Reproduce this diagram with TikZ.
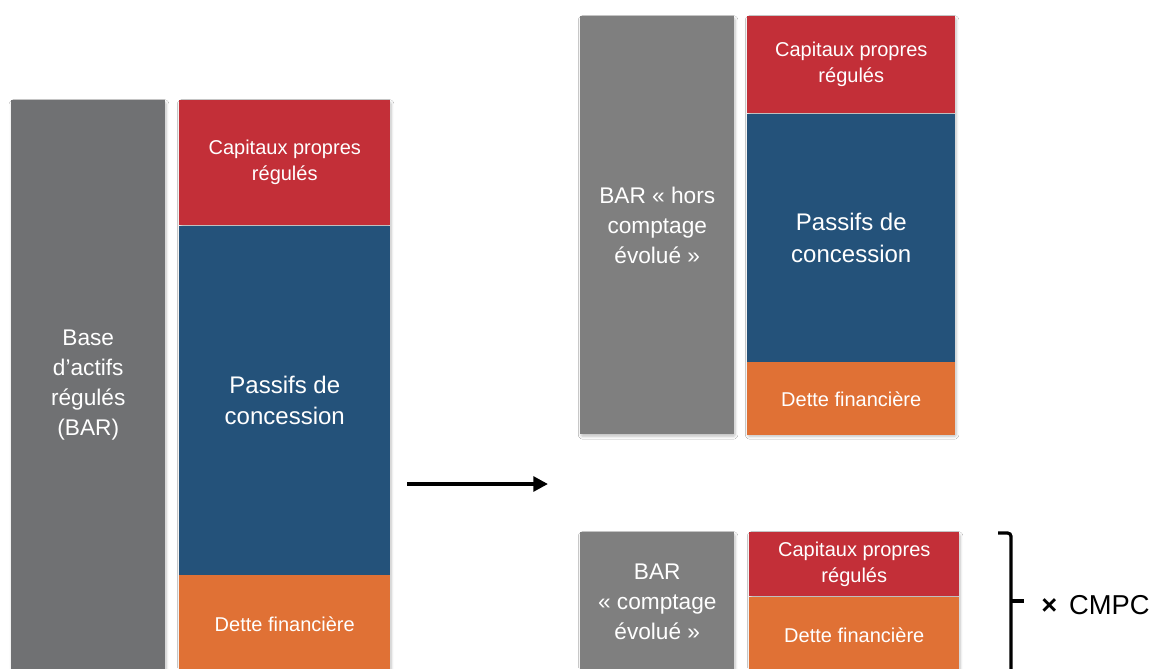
\documentclass[tikz,border=0pt]{standalone}
\usepackage{fontspec}
\setmainfont{Liberation Sans}
\usetikzlibrary{arrows.meta,shadows.blur}
\definecolor{barleft}{HTML}{707173}
\definecolor{bargray}{HTML}{7F7F7F}
\definecolor{capred}{HTML}{C32F38}
\definecolor{pasblue}{HTML}{24527A}
\definecolor{detorange}{HTML}{E07135}
\tikzset{
  block/.style={anchor=north west, inner sep=0pt, align=center, text=white,
    blur shadow={shadow xshift=0.6pt, shadow yshift=-1.6pt, shadow opacity=25, shadow blur steps=6, shadow blur extra rounding=1pt}},
  stacked/.style={anchor=north west, inner sep=0pt, align=center, text=white},
  smalltxt/.style={font=\fontsize{15pt}{19.5pt}\selectfont},
  bigtxt/.style={font=\fontsize{18pt}{23.5pt}\selectfont},
  graytxt/.style={font=\fontsize{17pt}{22.5pt}\selectfont},
  bracepart/.style={line width=2.4pt, line cap=butt, rounded corners=2.5pt},
}
\begin{document}
\begin{tikzpicture}[x=0.75pt,y=-0.75pt]
\useasboundingbox (0,0) rectangle (1152,668);
\clip (0,0) rectangle (1152,668);
\fill[white] (0,0) rectangle (1152,668);

% left: whole asset base and its financing
\node[block, fill=barleft, graytxt, minimum width=115.5pt, minimum height=427.5pt]
  (bar) at (11,100) {Base\\d’actifs\\régulés\\(BAR)};
% shadow under the whole financing column
\node[block, fill=none, minimum width=158.25pt, minimum height=429pt] (colL) at (179,100) {};
\node[stacked, fill=capred, smalltxt, minimum width=158.25pt, minimum height=93.75pt]
  (cpL) at (179,100) {Capitaux propres\\régulés};
\node[stacked, fill=pasblue, bigtxt, minimum width=158.25pt, minimum height=261.75pt]
  (pcL) at (cpL.south west) {Passifs de\\concession};
\node[stacked, fill=detorange, smalltxt, minimum width=158.25pt, minimum height=73.5pt]
  (dfL) at (pcL.south west) {Dette financière};

% right, top: assets outside smart metering
\node[block, fill=bargray, graytxt, minimum width=115.5pt, minimum height=313.5pt]
  (barH) at (580,16) {BAR « hors\\comptage\\évolué »};
\node[block, fill=none, minimum width=156pt, minimum height=313.5pt] (colH) at (747,16) {};
\node[stacked, fill=capred, smalltxt, minimum width=156pt, minimum height=72.75pt]
  (cpH) at (747,16) {Capitaux propres\\régulés};
\node[stacked, fill=pasblue, bigtxt, minimum width=156pt, minimum height=186pt]
  (pcH) at (cpH.south west) {Passifs de\\concession};
\node[stacked, fill=detorange, smalltxt, minimum width=156pt, minimum height=54.75pt]
  (dfH) at (pcH.south west) {Dette financière};

% right, bottom: smart metering assets
\node[block, fill=bargray, graytxt, minimum width=115.5pt, minimum height=105pt]
  (barC) at (580,532) {BAR\\« comptage\\évolué »};
\node[block, fill=none, minimum width=157.5pt, minimum height=105pt] (colC) at (749,532) {};
\node[stacked, fill=capred, smalltxt, minimum width=157.5pt, minimum height=48pt]
  (cpC) at (749,532) {Capitaux propres\\régulés};
\node[stacked, fill=detorange, smalltxt, minimum width=157.5pt, minimum height=57pt]
  (dfC) at (cpC.south west) {Dette financière};

% transition arrow
\coordinate (arrS) at (407,484);
\coordinate (arrE) at (548,484);
\draw[line width=3.2pt, -{Triangle[length=11pt,width=11pt]}] (arrS) -- (arrE);

% bracket and rate
\coordinate (brTop) at (998,533);
\coordinate (brCorner) at (1011,533);
\coordinate (brBot) at (1011,690);
\coordinate (brMid) at (1011,601);
\coordinate (brTip) at (1024,601);
\draw[bracepart] (brTop) -- (brCorner) -- (brBot);
\draw[bracepart] (brMid) -- (brTip);
\node[anchor=west, inner sep=0pt, font=\fontsize{20.5pt}{24pt}\selectfont] (cmpc) at (1041,605) {\textbf{×}\hspace{9pt}CMPC};
\end{tikzpicture}
\end{document}
